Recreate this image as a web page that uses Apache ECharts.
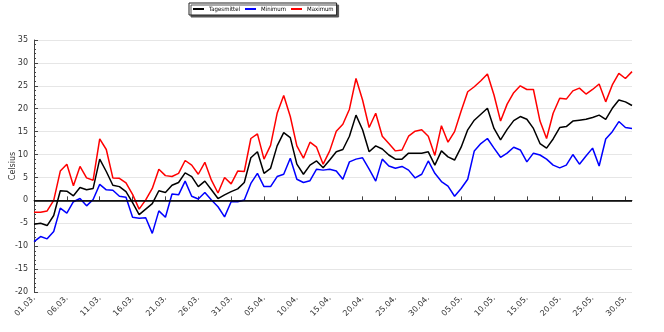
<!DOCTYPE html>
<html>
<head>
<meta charset="utf-8">
<script src="https://cdn.jsdelivr.net/npm/echarts@6/dist/echarts.min.js"></script>
<style>
html,body{margin:0;padding:0;background:#fff;}
#chart{width:664px;height:332px;}
</style>
</head>
<body>
<div id="chart"></div>
<script>
// Daily temperatures, 01.03. to 31.05.
const months = [['03', 31], ['04', 30], ['05', 31]];
const dates = [];
months.forEach(([m, n]) => {
  for (let d = 1; d <= n; d++) dates.push(String(d).padStart(2, '0') + '.' + m + '.');
});

const tagesmittel = [
  -5.2, -5.0, -5.5, -3.3, 2.1, 2.0, 1.0, 2.8, 2.3, 2.6,
  9.0, 6.3, 3.3, 3.0, 1.9, -0.5, -3.1, -1.9, -0.7, 2.1,
  1.7, 3.3, 3.9, 6.0, 5.2, 3.0, 4.2, 2.3, 0.4, 1.2,
  1.9, 2.5, 3.9, 9.3, 10.6, 5.9, 7.0, 11.9, 14.8, 13.7,
  7.9, 5.7, 7.7, 8.6, 7.1, 8.8, 10.6, 11.1, 14.0, 18.6,
  15.4, 10.6, 11.9, 11.2, 9.9, 9.0, 9.0, 10.3, 10.3, 10.3,
  10.6, 7.7, 10.8, 9.5, 8.8, 11.6, 15.4, 17.5, 18.8, 20.1,
  15.7, 13.2, 15.5, 17.4, 18.3, 17.7, 15.7, 12.4, 11.4, 13.4,
  15.9, 16.1, 17.3, 17.5, 17.7, 18.1, 18.6, 17.7, 20.1, 21.9,
  21.5, 20.7
];
const minimum = [
  -9.0, -7.9, -8.4, -6.8, -1.7, -2.8, -0.3, 0.4, -1.2, 0.2,
  3.5, 2.3, 2.2, 0.9, 0.7, -3.7, -3.9, -3.8, -7.2, -2.3,
  -3.7, 1.4, 1.2, 4.2, 0.9, 0.3, 1.7, 0.1, -1.4, -3.6,
  -0.3, -0.3, 0.1, 3.7, 5.9, 3.0, 3.0, 5.2, 5.7, 9.2,
  4.6, 3.9, 4.3, 6.8, 6.6, 6.8, 6.4, 4.6, 8.4, 9.0,
  9.3, 6.8, 4.2, 9.0, 7.5, 7.0, 7.4, 6.6, 4.9, 5.7,
  8.6, 5.9, 4.1, 3.1, 0.9, 2.6, 4.6, 10.8, 12.4, 13.5,
  11.4, 9.4, 10.3, 11.6, 11.0, 8.4, 10.3, 9.9, 9.0, 7.7,
  7.1, 7.7, 10.0, 7.9, 9.7, 11.4, 7.5, 13.4, 15.0, 17.2,
  15.9, 15.7
];
const maximum = [
  -2.6, -2.6, -2.3, 0.0, 6.4, 7.9, 3.2, 7.4, 4.9, 4.4,
  13.4, 11.1, 4.9, 4.8, 3.8, 1.3, -1.9, 0.1, 2.6, 6.8,
  5.4, 5.2, 5.9, 8.7, 7.7, 5.7, 8.3, 4.4, 1.6, 5.0,
  3.6, 6.4, 6.3, 13.5, 14.5, 9.0, 12.0, 19.0, 22.9, 18.3,
  11.9, 9.2, 12.7, 11.6, 7.9, 10.8, 15.1, 16.6, 19.9, 26.6,
  21.9, 15.9, 19.0, 14.0, 12.4, 10.8, 11.0, 14.0, 15.1, 15.4,
  14.0, 9.8, 16.3, 12.7, 15.0, 19.5, 23.7, 24.8, 26.1, 27.6,
  23.0, 17.3, 21.0, 23.5, 25.0, 24.2, 24.2, 17.3, 13.5, 19.0,
  22.3, 22.1, 23.9, 24.5, 23.2, 24.2, 25.4, 21.5, 25.2, 27.7,
  26.6, 28.1
];

const font = 'DejaVu Sans';
const chart = echarts.init(document.getElementById('chart'), null, { renderer: 'canvas' });

const line = (name, data, color) => ({
  name, type: 'line', data, symbol: 'none', smooth: false,
  lineStyle: { color, width: 1.5 }, itemStyle: { color },
  animation: false
});

chart.setOption({
  animation: false,
  backgroundColor: '#fff',
  legend: {
    top: 3, left: 189,
    data: ['Tagesmittel', 'Minimum', 'Maximum'],
    icon: 'rect', itemWidth: 11, itemHeight: 2, itemGap: 5,
    padding: [3, 3, 3, 4],
    backgroundColor: '#fff', borderColor: '#222', borderWidth: 1,
    shadowColor: '#555', shadowBlur: 0, shadowOffsetX: 2, shadowOffsetY: 2,
    textStyle: { fontFamily: 'DejaVu Sans Condensed', fontSize: 6, color: '#000' }
  },
  grid: { left: 34, right: 32, top: 40, bottom: 40, containLabel: false, outerBoundsMode: 'none' },
  xAxis: {
    type: 'category', data: dates, boundaryGap: false,
    axisLine: { lineStyle: { color: '#444', width: 1 } },
    axisTick: { inside: true, interval: 4, length: 4, lineStyle: { color: '#444' } },
    axisLabel: { interval: 4, rotate: 45, fontFamily: font, fontSize: 8, color: '#333', margin: 5 },
    splitLine: { show: false }
  },
  yAxis: {
    type: 'value', min: -20, max: 35, interval: 5,
    name: 'Celsius', nameLocation: 'middle', nameGap: 17, nameRotate: 90,
    nameMoveOverlap: false,
    nameTextStyle: { fontFamily: font, fontSize: 8, color: '#333' },
    axisLine: { show: true, lineStyle: { color: '#444', width: 1 } },
    axisTick: { show: true, inside: true, length: 4, lineStyle: { color: '#444' } },
    minorTick: { show: true, splitNumber: 5, length: 2, lineStyle: { color: '#444' } },
    axisLabel: { fontFamily: font, fontSize: 8, color: '#333', margin: 6 },
    splitLine: { show: true, lineStyle: { color: '#e6e6e6', width: 1 } }
  },
  series: [
    Object.assign(line('Tagesmittel', tagesmittel, '#000'), {
      markLine: {
        silent: true, symbol: 'none', label: { show: false },
        lineStyle: { color: '#000', width: 1.5, type: 'solid' },
        data: [{ yAxis: 0 }]
      }
    }),
    line('Minimum', minimum, '#0000ff'),
    line('Maximum', maximum, '#ff0000')
  ]
});
</script>
</body>
</html>
